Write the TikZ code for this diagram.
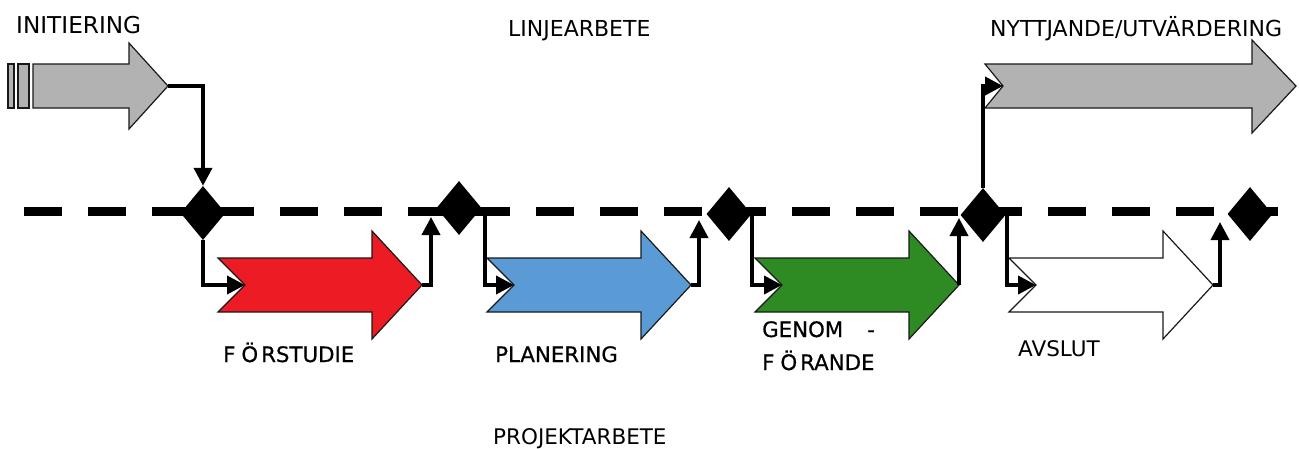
\documentclass[tikz,border=0pt]{standalone}
\usepackage{fontspec}
\setmainfont{DejaVu Sans}
\newfontfamily\wfont[FakeBold=0.6]{DejaVu Sans}
\usetikzlibrary{shapes.geometric,arrows.meta}
\definecolor{grayA}{HTML}{B2B2B2}
\definecolor{redA}{HTML}{ED1C24}
\definecolor{blueA}{HTML}{5B9BD5}
\definecolor{greenA}{HTML}{2E8B23}
\newcommand\phasearrow[3]{%
  \draw[shp, fill=#3] (#2,258) -- (#2+154,258) -- (#2+154,231) -- (#2+204,285)
    -- (#2+154,339) -- (#2+154,312) -- (#2,312) -- (#2+27,285) -- cycle;
  \coordinate (#1n) at (#2+27,285);
  \coordinate (#1t) at (#2+204,285);}
\begin{document}
\begin{tikzpicture}[x=1pt,y=-1pt,
  shp/.style={draw=black!90, line width=1.2pt, line join=miter},
  conn/.style={line width=3.8pt, -{Triangle[length=18pt,width=18pt]}, line join=miter},
  dia/.style={diamond, fill=black, inner sep=0pt, minimum width=45pt, minimum height=54pt},
  lbl/.style={anchor=base west, inner sep=0pt, font=\fontsize{22}{26}\selectfont},
  slbl/.style={anchor=base west, inner sep=0pt, font=\fontsize{21.5}{26}\selectfont},
  wlbl/.style={anchor=base west, inner sep=0pt, font=\wfont\fontsize{21.3}{25}\selectfont}]
\useasboundingbox (0,0) rectangle (1299,448);

% dashed line
\draw[line width=9pt, dash pattern=on 38pt off 26pt] (24,211) -- (1278,211);

% diamonds
\node[dia] (D1) at (203,213) {};
\node[dia] (D2) at (459,208) {};
\node[dia] (D3) at (729,214) {};
\node[dia] (D4) at (983,215) {};
\node[dia] (D5) at (1250,214) {};

% initiering arrow
\draw[shp, fill=grayA] (8,64) rectangle (14,108);
\draw[shp, fill=grayA] (18,64) rectangle (29,108);
\draw[shp, fill=grayA] (33,64) -- (129,64) -- (129,43) -- (168,86) -- (129,129)
  -- (129,108) -- (33,108) -- cycle;
\coordinate (it) at (168,86);

% nyttjande arrow
\draw[shp, fill=grayA] (985,64) -- (1252,64) -- (1252,40) -- (1296,86) -- (1252,133)
  -- (1252,108) -- (985,108) -- (1003,86) -- cycle;
\coordinate (tn) at (1003,86);

% phase arrows
\phasearrow{r}{218}{redA}
\phasearrow{b}{487}{blueA}
\phasearrow{g}{755}{greenA}
\phasearrow{w}{1009}{white}

% connector end points
\coordinate (a2) at (431,217);
\coordinate (a3) at (699,220);
\coordinate (a4) at (959,218);
\coordinate (a5) at (1220,222);

% connectors
\draw[conn] (it) -| (D1.north);
\draw[conn] (D1.south) |- (rn);
\draw[conn] (rt) -| (a2);
\draw[conn] ([xshift=3pt]D2.east) |- (bn);
\draw[conn] (bt) -| (a3);
\draw[conn] (D3.east) |- (gn);
\draw[conn] (gt) -| (a4);
\draw[conn] ([xshift=1pt]D4.east) |- (wn);
\draw[conn] (wt) -| (a5);
\draw[conn] (D4.north) |- (tn);

% labels
\node[lbl, font=\fontsize{23.2}{27}\selectfont] (tI) at (16,33) {INITIERING};
\node[lbl] (tL) at (508,36) {LINJEARBETE};
\node[lbl] (tN) at (990,36) {NYTTJANDE/UTVÄRDERING};
\node[wlbl] (tF) at (223,362) {F\hspace{6pt}Ö\hspace{3pt}RSTUDIE};
\node[wlbl] (tP) at (495,362) {PLANERING};
\node[wlbl] (tG) at (762,337) {GENOM\hspace{24pt}-};
\node[wlbl] (tG2) at (762,370) {F\hspace{6pt}Ö\hspace{3pt}RANDE};
\node[slbl] (tA) at (1018,356) {AVSLUT};
\node[slbl] (tPr) at (493,444) {PROJEKTARBETE};
\end{tikzpicture}
\end{document}
